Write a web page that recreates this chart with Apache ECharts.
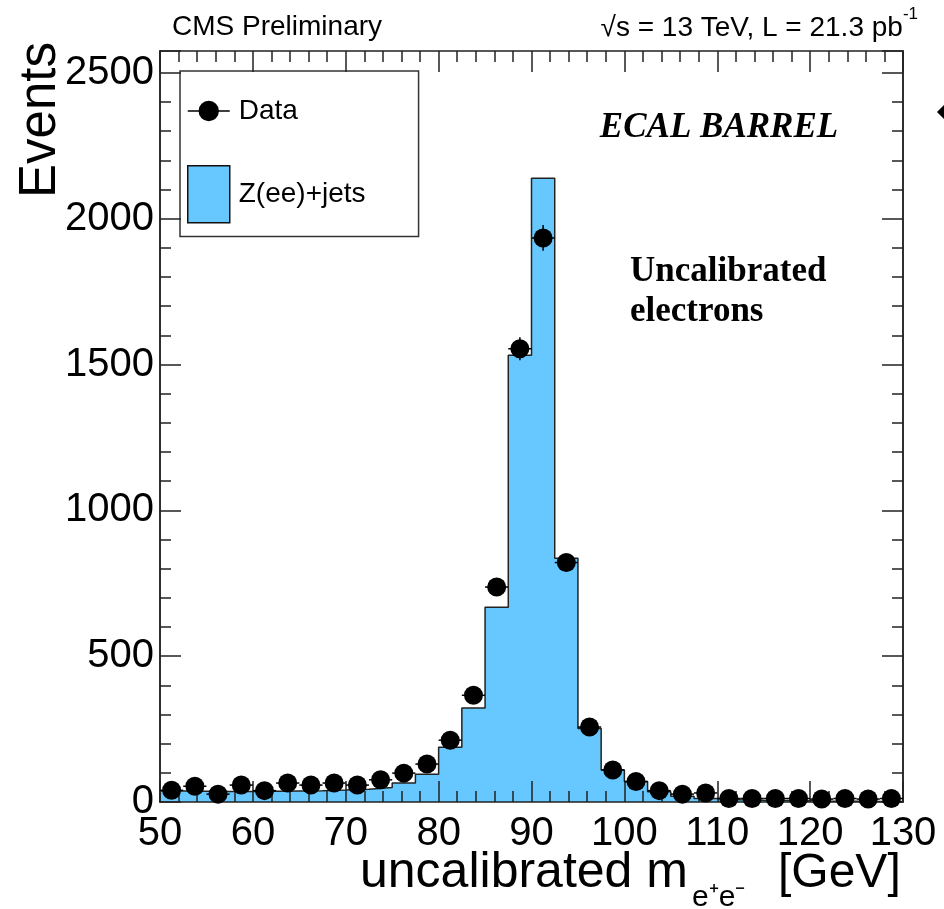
<!DOCTYPE html>
<html>
<head>
<meta charset="utf-8">
<script src="https://cdn.jsdelivr.net/npm/echarts@6/dist/echarts.min.js"></script>
<style>
  html, body { margin: 0; padding: 0; background: #fff; }
  #chart { width: 944px; height: 909px; }
</style>
</head>
<body>
<div id="chart"></div>
<script>
// bin edges of the histogram (GeV), 2.5 GeV bins
const binEdges = [50, 52.5, 55, 57.5, 60, 62.5, 65, 67.5, 70, 72.5, 75, 77.5, 80, 82.5, 85, 87.5,
    90, 92.5, 95, 97.5, 100, 102.5, 105, 107.5, 110, 112.5, 115, 117.5, 120, 122.5, 125, 127.5, 130];
const binCenters = [51.25, 53.75, 56.25, 58.75, 61.25, 63.75, 66.25, 68.75, 71.25, 73.75, 76.25, 78.75,
    81.25, 83.75, 86.25, 88.75, 91.25, 93.75, 96.25, 98.75, 101.25, 103.75, 106.25, 108.75,
    111.25, 113.75, 116.25, 118.75, 121.25, 123.75, 126.25, 128.75];
// Z(ee)+jets simulation
const mcEvents = [38, 37, 36, 36, 37, 38, 39, 41, 44, 50, 65, 95, 188, 322, 668, 1532,
    2139, 836, 252, 110, 70, 35, 20, 12, 8, 6, 5, 4, 3, 3, 2, 2];
// data points
const dataEvents = [40, 54, 27, 58, 39, 65, 58, 65, 58, 76, 99, 130, 212, 366, 737, 1554,
    1934, 821, 257, 110, 70, 39, 27, 31, 12, 12, 12, 12, 10, 12, 10, 12];
const xTicks = [50, 130, 10];
const yTicks = [0, 2575, 500];

const fill = '#66c8fe';
const sans = '"Liberation Sans", Arial, Helvetica, sans-serif';
const serif = '"Liberation Serif", "Times New Roman", serif';

const histData = binEdges.map((e, i) => [e, mcEvents[Math.min(i, mcEvents.length - 1)]]);
const pointData = binCenters.map((c, i) => [c, dataEvents[i]]);
const errData = binCenters.map((c, i) => [c, dataEvents[i], Math.sqrt(dataEvents[i])]);

const myChart = echarts.init(document.getElementById('chart'));

function xAxisDef(pos, labels) {
    return {
        type: 'value', position: pos, min: xTicks[0], max: xTicks[1], interval: xTicks[2],
        z: 5,
        axisLine: { show: true, onZero: false, lineStyle: { color: '#222', width: 1.5 } },
        axisTick: { show: true, inside: true, length: 21, lineStyle: { color: '#222', width: 1.5 } },
        minorTick: { show: true, splitNumber: 5, length: 11, lineStyle: { color: '#222', width: 1.5 } },
        axisLabel: { show: labels, fontSize: 40, color: '#000', fontFamily: sans, margin: 12 },
        splitLine: { show: false }
    };
}
function yAxisDef(pos, interval, tickLen, labels) {
    return {
        type: 'value', position: pos, min: yTicks[0], max: yTicks[1], interval: interval,
        z: 5,
        axisLine: { show: true, onZero: false, lineStyle: { color: '#222', width: 1.5 } },
        axisTick: { show: true, inside: true, length: tickLen, lineStyle: { color: '#222', width: 1.5 } },
        axisLabel: {
            show: labels, fontSize: 40, color: '#000', fontFamily: sans, margin: 6,
            formatter: function (v) { return v % 500 === 0 ? String(v) : ''; }
        },
        splitLine: { show: false }
    };
}

const option = {
    animation: false,
    backgroundColor: '#fff',
    grid: { left: 160, right: 41, top: 51, bottom: 107, containLabel: false },
    xAxis: [xAxisDef('bottom', true), xAxisDef('top', false)],
    yAxis: [
        yAxisDef('left', yTicks[2], 21, true),
        yAxisDef('left', 100, 11, false),
        yAxisDef('right', yTicks[2], 21, false),
        yAxisDef('right', 100, 11, false)
    ],
    legend: {
        left: 180, top: 71, orient: 'vertical',
        padding: [26, 53, 13, 7],
        itemGap: 40, itemWidth: 42, itemHeight: 57,
        backgroundColor: '#fff', borderColor: '#333', borderWidth: 1.5,
        selectedMode: false,
        textStyle: { fontSize: 28, color: '#000', fontFamily: sans, padding: [0, 0, 0, 4] },
        data: [
            {
                name: 'Data',
                icon: 'path://M0,10 L40,10 M29,10 A9,9 0 1 1 11,10 A9,9 0 1 1 29,10 Z',
                itemStyle: { color: '#000', borderColor: '#000', borderWidth: 1.5, opacity: 1 }
            },
            {
                name: 'Z(ee)+jets', icon: 'rect',
                itemStyle: { color: fill, borderColor: '#111', borderWidth: 1.5 }
            }
        ]
    },
    graphic: [
        { type: 'text', left: 172, top: 13, style: { text: 'CMS Preliminary', fontSize: 28, fill: '#000', fontFamily: sans } },
        {
            type: 'text', right: 26, top: 6,
            style: {
                text: '{a|√s = 13 TeV, L = 21.3 pb}{b|-1}',
                rich: {
                    a: { fontSize: 28, fill: '#000', fontFamily: sans, verticalAlign: 'bottom', lineHeight: 36 },
                    b: { fontSize: 17, fill: '#000', fontFamily: sans, verticalAlign: 'top', lineHeight: 36 }
                }
            }
        },
        {
            type: 'text', x: 41, y: 120, rotation: Math.PI / 2,
            style: { text: 'Events', fontSize: 51, fill: '#000', fontFamily: sans, align: 'center', verticalAlign: 'middle' }
        },
        { type: 'text', x: 360, y: 898, style: { text: 'uncalibrated m', fontSize: 50, fill: '#000', fontFamily: sans, verticalAlign: 'bottom' } },
        { type: 'text', x: 692, y: 913, style: { text: 'e⁺e⁻', fontSize: 30, fill: '#000', fontFamily: sans, verticalAlign: 'bottom' } },
        { type: 'text', x: 778, y: 898, style: { text: '[GeV]', fontSize: 48, fill: '#000', fontFamily: sans, verticalAlign: 'bottom' } },
        { type: 'text', x: 719, y: 128, style: { text: 'ECAL BARREL', fontSize: 35, fontStyle: 'italic', fontWeight: 'bold', fill: '#000', fontFamily: serif, align: 'center', verticalAlign: 'middle' } },
        { type: 'text', x: 630, y: 252, style: { text: 'Uncalibrated\nelectrons', fontSize: 35, lineHeight: 40, fontWeight: 'bold', fill: '#000', fontFamily: serif } },
        { type: 'polygon', shape: { points: [[946, 103], [937, 112], [946, 121]] }, style: { fill: '#000' } }
    ],
    series: [
        {
            name: 'Z(ee)+jets', type: 'line', step: 'end', data: histData,
            xAxisIndex: 0, yAxisIndex: 0, symbol: 'none', z: 2,
            lineStyle: { color: '#222', width: 1.5 },
            itemStyle: { color: fill },
            areaStyle: { color: fill, opacity: 1 }
        },
        {
            name: 'Data', type: 'scatter', data: pointData,
            xAxisIndex: 0, yAxisIndex: 0, symbolSize: 19, z: 10,
            itemStyle: { color: '#000', opacity: 1 }
        },
        {
            name: 'Data', type: 'custom', data: errData, z: 9,
            xAxisIndex: 0, yAxisIndex: 0,
            renderItem: function (params, api) {
                const x = api.value(0), y = api.value(1), e = api.value(2);
                const lo = api.coord([x - 1.25, y]);
                const hi = api.coord([x + 1.25, y]);
                const top = api.coord([x, y + e]);
                const bot = api.coord([x, y - e]);
                const st = { stroke: '#000', lineWidth: 1.5 };
                return {
                    type: 'group',
                    children: [
                        { type: 'line', shape: { x1: lo[0], y1: lo[1], x2: hi[0], y2: hi[1] }, style: st },
                        { type: 'line', shape: { x1: top[0], y1: top[1], x2: bot[0], y2: bot[1] }, style: st }
                    ]
                };
            }
        }
    ]
};

myChart.setOption(option);
</script>
</body>
</html>
